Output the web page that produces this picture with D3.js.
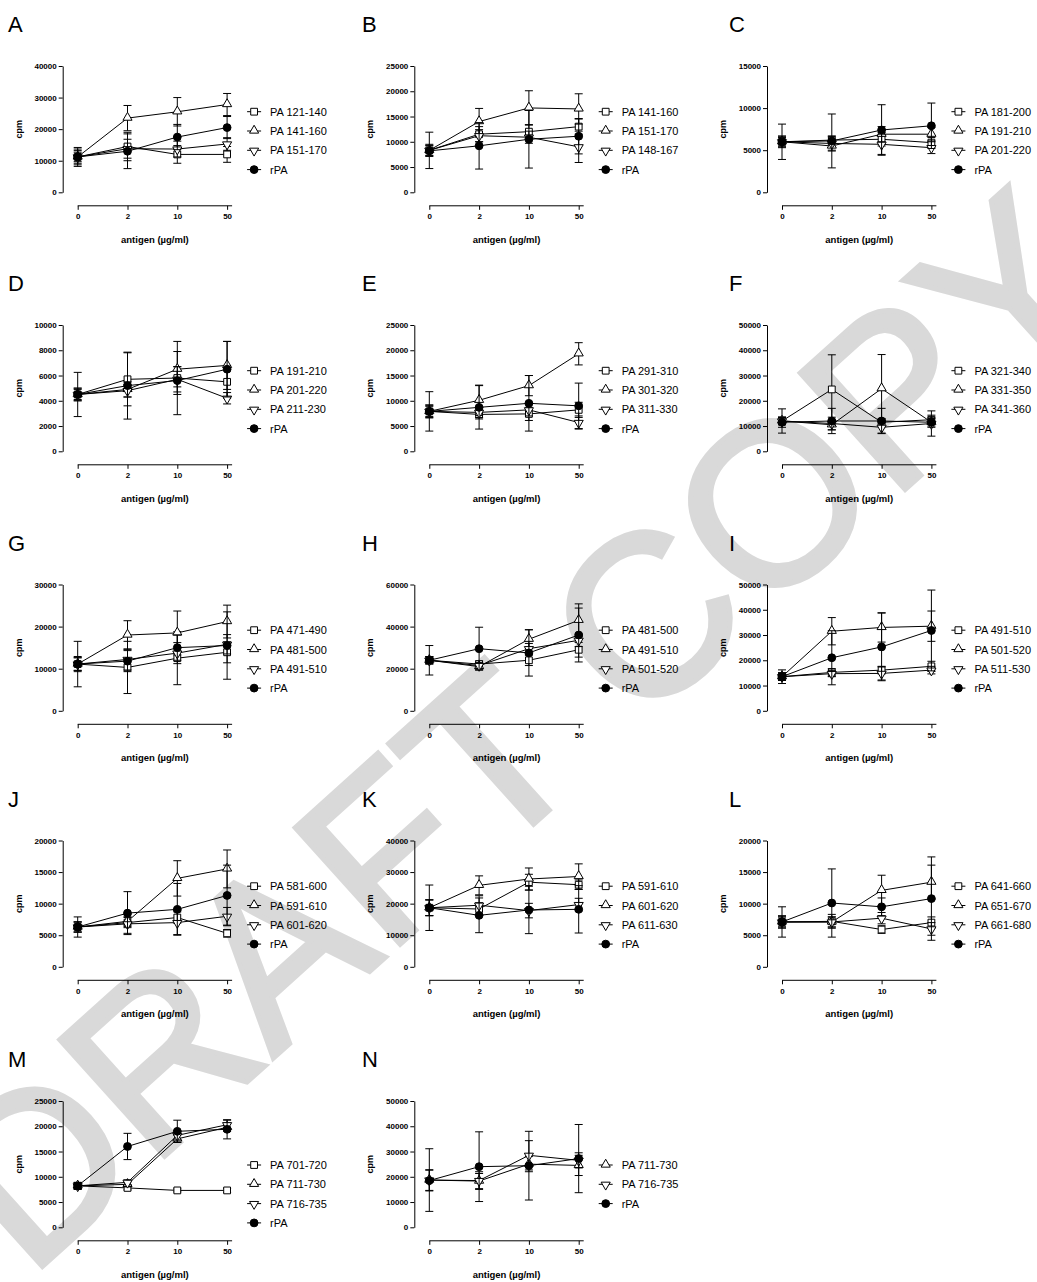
<!DOCTYPE html>
<html><head><meta charset="utf-8">
<script src="https://cdn.jsdelivr.net/npm/d3@7"></script>
<style>body{margin:0;background:#fff} svg{display:block}</style>
</head><body>
<svg id="c" width="1037" height="1282"></svg>
<script>
// ---------------- data ----------------
const doses = ["0", "2", "10", "50"];
const panelIds = ["A","B","C","D","E","F","G","H","I","J","K","L","M","N"];
const yMax  = [40000, 25000, 15000, 10000, 25000, 50000, 30000, 60000, 50000, 20000, 40000, 20000, 25000, 50000];
const yStep = [10000,  5000,  5000,  2000,  5000, 10000, 10000, 20000, 10000,  5000, 10000,  5000,  5000, 10000];
const markers4 = ["square", "triUp", "triDown", "circle"];
const markers3 = ["triUp", "triDown", "circle"];

const namesA = ["PA 121-140", "PA 141-160", "PA 151-170", "rPA"];
const meanA = [[11200, 14500, 12000, 12000], [11200, 23500, 25500, 27800], [11200, 13800, 13700, 15300], [11200, 13000, 17500, 20500]];
const errA  = [[3000, 4500, 2800, 2500], [2000, 4000, 4500, 3500], [1500, 3000, 2500, 2000], [2500, 5500, 4000, 3500]];

const namesB = ["PA 141-160", "PA 151-170", "PA 148-167", "rPA"];
const meanB = [[8300, 11500, 12000, 13000], [8300, 14000, 16700, 16500], [8300, 11200, 10900, 9000], [8200, 9200, 10500, 11100]];
const errB  = [[1200, 1500, 1400, 1500], [1000, 2600, 3400, 3000], [3600, 1200, 1200, 3100], [1000, 4600, 5700, 3500]];

const namesC = ["PA 181-200", "PA 191-210", "PA 201-220", "rPA"];
const meanC = [[6000, 6200, 6300, 5900], [6000, 5500, 6900, 6900], [6000, 5800, 5700, 5300], [6000, 6100, 7400, 7900]];
const errC  = [[600, 500, 800, 600], [500, 600, 900, 800], [2100, 800, 1200, 700], [700, 3200, 3000, 2700]];

const namesD = ["PA 191-210", "PA 201-220", "PA 211-230", "rPA"];
const meanD = [[4500, 5700, 5800, 5500], [4500, 4900, 6500, 6800], [4500, 4800, 5700, 4200], [4500, 5200, 5600, 6500]];
const errD  = [[500, 2100, 2900, 1300], [400, 600, 1400, 1900], [1750, 500, 1000, 450], [500, 2650, 1100, 2200]];

const namesE = ["PA 291-310", "PA 301-320", "PA 311-330", "rPA"];
const meanE = [[7900, 7300, 7400, 8200], [7900, 10100, 13000, 19300], [7900, 7700, 8200, 5700], [7900, 8700, 9500, 9000]];
const errE  = [[1200, 900, 1300, 1500], [1000, 3000, 2000, 2200], [3900, 1000, 1200, 1300], [1300, 4300, 5500, 4500]];

const namesF = ["PA 321-340", "PA 331-350", "PA 341-360", "rPA"];
const meanF = [[12000, 24500, 11500, 12500], [12000, 10500, 24800, 11500], [12000, 11000, 9500, 11000], [11500, 12000, 12000, 11500]];
const errF  = [[4800, 13700, 1500, 1800], [1500, 2000, 13500, 1500], [1500, 2500, 2300, 5000], [2000, 5000, 5000, 2000]];

const namesG = ["PA 471-490", "PA 481-500", "PA 491-510", "rPA"];
const meanG = [[11100, 10300, 12500, 13900], [11100, 18000, 18500, 21200], [11100, 12200, 13700, 15800], [11100, 11800, 15000, 15500]];
const errG  = [[1800, 6200, 6300, 2500], [1500, 3400, 5200, 3900], [5400, 2500, 2500, 2300], [1500, 2500, 3000, 8000]];

const namesH = ["PA 481-500", "PA 491-510", "PA 501-520", "rPA"];
const meanH = [[24000, 22200, 24000, 29000], [24000, 21000, 34000, 43000], [24000, 21500, 29500, 33500], [24000, 29500, 27500, 36000]];
const errH  = [[1700, 1500, 2500, 3500], [1700, 1500, 4500, 7800], [7000, 1500, 2500, 3000], [1700, 10200, 11000, 12800]];

const namesI = ["PA 491-510", "PA 501-520", "PA 511-530", "rPA"];
const meanI = [[13500, 15200, 16100, 17600], [13500, 31500, 33000, 33500], [13500, 14700, 14800, 16100], [13500, 21000, 25300, 31800]];
const errI  = [[2700, 1500, 1500, 2000], [1500, 5400, 5800, 6000], [1500, 1200, 2600, 1500], [1500, 10700, 13400, 16000]];

const namesJ = ["PA 581-600", "PA 591-610", "PA 601-620", "rPA"];
const meanJ = [[6300, 7000, 7800, 5300], [6300, 7200, 14000, 15500], [6300, 6800, 7000, 8000], [6300, 8500, 9100, 11300]];
const errJ  = [[1600, 800, 900, 600], [800, 800, 2800, 3000], [800, 1500, 1900, 1400], [800, 3400, 4100, 4800]];

const namesK = ["PA 591-610", "PA 601-620", "PA 611-630", "rPA"];
const meanK = [[18700, 18300, 26800, 26000], [18700, 25800, 27800, 28600], [18700, 19500, 17800, 19700], [18700, 16300, 18000, 18200]];
const errK  = [[2500, 2000, 2500, 1500], [2500, 3000, 3500, 4000], [7200, 3000, 2300, 2000], [2500, 5500, 7500, 7500]];

const namesL = ["PA 641-660", "PA 651-670", "PA 661-680", "rPA"];
const meanL = [[7100, 7200, 5900, 7000], [7100, 7100, 12100, 13400], [7100, 7100, 7700, 6000], [7100, 10100, 9500, 10800]];
const errL  = [[1000, 1100, 600, 900], [800, 800, 2400, 2700], [2400, 800, 900, 1000], [800, 5400, 1400, 6600]];

const namesM = ["PA 701-720", "PA 711-730", "PA 716-735", "rPA"];
const meanM = [[8200, 7800, 7300, 7300], [8200, 8500, 17500, 19800], [8200, 8900, 18200, 20300], [8200, 16000, 19000, 19400]];
const errM  = [[500, 400, 300, 400], [600, 500, 700, 800], [600, 500, 900, 900], [700, 2600, 2200, 1900]];

const namesN = ["PA 711-730", "PA 716-735", "rPA"];
const meanN = [[18700, 18300, 25000, 24500], [18700, 18500, 28500, 26500], [18500, 24000, 24400, 27200]];
const errN  = [[4100, 3000, 3000, 4000], [12400, 3500, 5800, 3000], [4100, 13800, 13600, 13500]];

const watermarkText = "DRAFT COPY";

// ---------------- layout ----------------
const panels = [
  [namesA, meanA, errA], [namesB, meanB, errB], [namesC, meanC, errC],
  [namesD, meanD, errD], [namesE, meanE, errE], [namesF, meanF, errF],
  [namesG, meanG, errG], [namesH, meanH, errH], [namesI, meanI, errI],
  [namesJ, meanJ, errJ], [namesK, meanK, errK], [namesL, meanL, errL],
  [namesM, meanM, errM], [namesN, meanN, errN]
];
const colX0 = [77.7, 429.3, 782];
const letterX = [8, 362, 729];
const rowTop = [66, 325, 584.5, 840.5, 1101];
const legendOffset = [45.7, 45.7, 45.7, 45.7, 64];
const plotH = 126.3;
const xStep = 49.8;

const svg = d3.select("#c");
svg.append("rect").attr("width", 1037).attr("height", 1282).attr("fill", "#fff");

// watermark (behind)
svg.append("text")
  .attr("transform", "translate(520,730) rotate(-42)")
  .attr("text-anchor", "middle").attr("dominant-baseline", "central")
  .attr("font-family", "Liberation Sans, Arial, sans-serif")
  .attr("font-size", 228).attr("fill", "#d9d9d9")
  .attr("stroke", "#d9d9d9").attr("stroke-width", 5)
  .text(watermarkText);

const sym = {
  square: d3.symbol().type(d3.symbolSquare).size(46),
  triUp: d3.symbol().type(d3.symbolTriangle).size(36),
  triDown: d3.symbol().type(d3.symbolTriangle).size(36),
  circle: d3.symbol().type(d3.symbolCircle).size(48)
};
function drawMarker(g, type, cx, cy) {
  const p = g.append("path").attr("d", sym[type]())
    .attr("stroke", "#000").attr("stroke-width", 1)
    .attr("fill", type === "circle" ? "#000" : "#fff");
  if (type === "triDown") p.attr("transform", `translate(${cx},${cy + 0.5}) rotate(180)`);
  else if (type === "triUp") p.attr("transform", `translate(${cx},${cy - 0.5})`);
  else p.attr("transform", `translate(${cx},${cy})`);
}

panels.forEach(([names, means, errs], i) => {
  const row = Math.floor(i / 3), col = i % 3;
  const x0 = colX0[col], top = rowTop[row], zero = top + plotH;
  const x = d3.scalePoint().domain(doses).range([x0, x0 + 3 * xStep]);
  const y = d3.scaleLinear().domain([0, yMax[i]]).range([zero, top]);
  const g = svg.append("g");
  const markers = names.length === 4 ? markers4 : markers3;

  // panel letter
  g.append("text").attr("x", letterX[col]).attr("y", top - 34)
    .attr("font-family", "Liberation Sans, Arial, sans-serif").attr("font-size", 22)
    .text(panelIds[i]);

  // y axis
  const yAxisX = x0 - 15;
  const ya = g.append("g").attr("transform", `translate(${yAxisX},0)`)
    .call(d3.axisLeft(y).tickValues(d3.range(0, yMax[i] + 1, yStep[i]))
      .tickSize(4).tickSizeOuter(0).tickPadding(2).tickFormat(d3.format("d")));
  ya.selectAll("text").attr("font-family", "Liberation Sans, Arial, sans-serif")
    .attr("font-weight", "bold").attr("font-size", 8).attr("fill", "#000");
  ya.selectAll("line,path").attr("stroke", "#000");

  // x axis (offset)
  const xAxisY = zero + 13.5;
  const xa = g.append("g").attr("transform", `translate(0,${xAxisY})`)
    .call(d3.axisBottom(x).tickSize(4).tickSizeOuter(0).tickPadding(4));
  xa.select(".domain").attr("d", `M${x0},0H${x0 + 3 * xStep + 5}`);
  xa.selectAll("text").attr("font-family", "Liberation Sans, Arial, sans-serif")
    .attr("font-weight", "bold").attr("font-size", 8).attr("fill", "#000");
  xa.selectAll("line,path").attr("stroke", "#000");

  // axis titles
  g.append("text").attr("x", x0 + 1.5 * xStep + 2.5).attr("y", xAxisY + 37)
    .attr("text-anchor", "middle").attr("font-family", "Liberation Sans, Arial, sans-serif")
    .attr("font-weight", "bold").attr("font-size", 9.5).text("antigen (\u00B5g/ml)");
  g.append("text").attr("transform", `translate(${yAxisX - 41},${(top + zero) / 2}) rotate(-90)`)
    .attr("text-anchor", "middle").attr("font-family", "Liberation Sans, Arial, sans-serif")
    .attr("font-weight", "bold").attr("font-size", 9).text("cpm");

  // series
  const line = d3.line().x((d, k) => x(doses[k])).y(d => y(d));
  means.forEach((m, s) => {
    const sg = g.append("g");
    sg.append("path").attr("d", line(m)).attr("fill", "none").attr("stroke", "#000").attr("stroke-width", 1);
    m.forEach((v, k) => {
      const cx = x(doses[k]), e = errs[s][k];
      const y1 = y(v + e), y2 = y(Math.max(0, v - e));
      sg.append("line").attr("x1", cx).attr("x2", cx).attr("y1", y1).attr("y2", y2).attr("stroke", "#000");
      [y1, y2].forEach(yy => sg.append("line").attr("x1", cx - 4).attr("x2", cx + 4)
        .attr("y1", yy).attr("y2", yy).attr("stroke", "#000"));
    });
    m.forEach((v, k) => drawMarker(sg, markers[s], x(doses[k]), y(v)));
  });

  // legend
  const lx = x0 + 3 * xStep + 27;
  const ly0 = top + legendOffset[row];
  names.forEach((n, s) => {
    const yy = ly0 + s * 19.3;
    g.append("line").attr("x1", lx - 7).attr("x2", lx + 7).attr("y1", yy).attr("y2", yy).attr("stroke", "#000");
    drawMarker(g, markers[s], lx, yy);
    g.append("text").attr("x", lx + 16).attr("y", yy).attr("dominant-baseline", "central")
      .attr("font-family", "Liberation Sans, Arial, sans-serif").attr("font-size", 11).text(n);
  });
});
</script>
</body></html>
